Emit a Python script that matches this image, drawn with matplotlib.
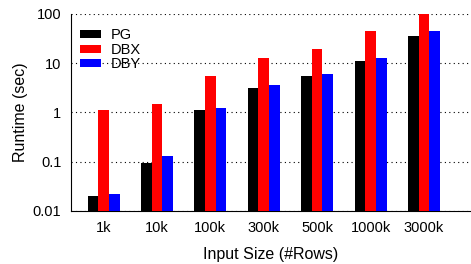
import numpy as np
import matplotlib
matplotlib.use("Agg")
import matplotlib.pyplot as plt

plt.rcParams['font.family'] = ['Liberation Sans', 'DejaVu Sans']

# runtimes in seconds
sizes = ["1k", "10k", "100k", "300k", "500k", "1000k", "3000k"]
pg = [0.020, 0.096, 1.12, 3.14, 5.5, 11.1, 35.7]
dbx = [1.12, 1.49, 5.5, 12.8, 19.5, 45.2, 100]
dby = [0.0225, 0.133, 1.23, 3.62, 6.05, 12.8, 45.2]

x = np.arange(len(sizes))
w = 0.2

fig = plt.figure(figsize=(4.71, 2.64), dpi=100)
ax = fig.add_axes([0.1507, 0.2008, 0.848, 0.7462])

ax.bar(x - w, pg, w, color='black', label='PG', zorder=3)
ax.bar(x, dbx, w, color='#ff0000', label='DBX', zorder=3)
ax.bar(x + w, dby, w, color='#0000ff', label='DBY', zorder=3)

ax.set_yscale('log')
ax.set_ylim(0.01, 100)
ax.set_xlim(-0.61, 6.87)
ax.set_yticks([0.01, 0.1, 1, 10, 100])
ax.set_yticklabels(["0.01", "0.1", "1", "10", "100"])
ax.minorticks_off()
ax.set_xticks(x)
ax.set_xticklabels(sizes)
ax.tick_params(length=0, labelsize=10.5)
ax.tick_params(axis='x', pad=7)
ax.tick_params(axis='y', pad=7)

ax.yaxis.grid(True, linestyle=(0, (1, 3)), color='black', linewidth=0.8, zorder=0)
for s in ['top', 'right']:
    ax.spines[s].set_visible(False)

ax.set_ylabel("Runtime (sec)", fontsize=11.5, labelpad=3)
ax.set_xlabel("Input Size (#Rows)", fontsize=11.5, labelpad=9)

ax.legend(loc='upper left', bbox_to_anchor=(0.0225, 0.927), frameon=False, fontsize=10.5,
          handlelength=1.45, handleheight=0.48, labelspacing=0.03, borderpad=0,
          borderaxespad=0, handletextpad=0.65)

fig.savefig("out.png", dpi=100)
